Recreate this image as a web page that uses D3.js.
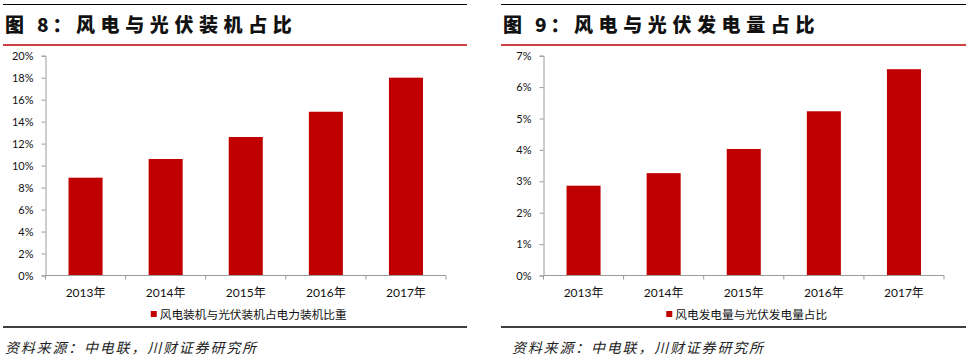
<!DOCTYPE html>
<html>
<head>
<meta charset="utf-8">
<script src="https://cdn.jsdelivr.net/npm/d3@7"></script>
<style>
    body { margin: 0; background: #fff; }
    svg { display: block; }
</style>
</head>
<body>
<div id="chart"></div>
<script>
// Data
const years = ['2013年', '2014年', '2015年', '2016年', '2017年'];
const capacityShare = [8.9, 10.6, 12.6, 14.9, 18.0];   // 图8, %
const generationShare = [2.86, 3.26, 4.03, 5.23, 6.57]; // 图9, %
const capacityTicks = [0, 2, 4, 6, 8, 10, 12, 14, 16, 18, 20];
const generationTicks = [0, 1, 2, 3, 4, 5, 6, 7];
const sourceText = '资料来源：中电联，川财证券研究所';

const RED = '#C00000';
const AXIS = '#9a9a9a';
const NUM_FONT = "Lato, 'Noto Sans CJK SC', sans-serif";
const CJK_FONT = "'Noto Sans CJK SC', sans-serif";

const svg = d3.select('#chart')
    .append('svg')
    .attr('width', 966)
    .attr('height', 364);

drawPanel({
    ox: 0, right: 467, sourceX: 5,
    num: '8', title: '风电与光伏装机占比',
    legend: '风电装机与光伏装机占电力装机比重',
    values: capacityShare, ticks: capacityTicks
});

drawPanel({
    ox: 498, right: 966, sourceX: 512,
    num: '9', title: '风电与光伏发电量占比',
    legend: '风电发电量与光伏发电量占比',
    values: generationShare, ticks: generationTicks
});

function drawPanel(cfg) {
    const g = svg.append('g').attr('transform', `translate(${cfg.ox},0)`);
    const w = cfg.right - cfg.ox;

    // header rules + title
    g.append('line')
        .attr('x1', 3).attr('x2', w).attr('y1', 4.5).attr('y2', 4.5)
        .attr('stroke', '#000').attr('stroke-width', 1);

    const title = g.append('g')
        .style('font-family', CJK_FONT)
        .style('font-weight', 900)
        .style('font-size', '19px')
        .attr('fill', '#111');
    title.append('text').attr('x', 5).attr('y', 32).text('图');
    title.append('text').attr('x', 37).attr('y', 32).attr('letter-spacing', 4).text(cfg.num + '：');
    title.append('text').attr('x', 76).attr('y', 32).attr('letter-spacing', 5.6).text(cfg.title);

    g.append('line')
        .attr('x1', 3).attr('x2', w).attr('y1', 45).attr('y2', 45)
        .attr('stroke', RED).attr('stroke-width', 1.5);

    // plot area
    const left = 45.5, right = 446, top = 55.7, bottom = 275.5;

    const x = d3.scaleBand()
        .domain(years)
        .range([left, right])
        .paddingInner(0.575)
        .paddingOuter(0.2875);

    const y = d3.scaleLinear()
        .domain([0, d3.max(cfg.ticks)])
        .range([bottom, top]);

    g.append('g')
        .selectAll('rect')
        .data(cfg.values)
        .join('rect')
        .attr('x', (d, i) => x(years[i]))
        .attr('y', d => y(d))
        .attr('width', x.bandwidth())
        .attr('height', d => y(0) - y(d))
        .attr('fill', RED);

    // y axis
    const yAxis = g.append('g')
        .attr('transform', `translate(${left},0)`)
        .call(d3.axisLeft(y).tickValues(cfg.ticks).tickFormat(d => d + '%').tickSize(4).tickPadding(8));
    yAxis.select('.domain').attr('stroke', AXIS);
    yAxis.selectAll('.tick line').attr('stroke', AXIS);
    yAxis.selectAll('text')
        .style('font-family', NUM_FONT)
        .style('font-size', '11px')
        .attr('fill', '#111');

    // x axis: line with ticks on the category boundaries
    const bounds = d3.range(years.length + 1).map(i => x.range()[0] + i * x.step());
    g.append('line')
        .attr('x1', left).attr('x2', right).attr('y1', bottom).attr('y2', bottom)
        .attr('stroke', AXIS);
    g.append('g')
        .selectAll('line')
        .data(bounds)
        .join('line')
        .attr('x1', d => d).attr('x2', d => d)
        .attr('y1', bottom).attr('y2', bottom + 4)
        .attr('stroke', AXIS);

    g.append('g')
        .selectAll('text')
        .data(years)
        .join('text')
        .attr('x', d => x(d) + x.bandwidth() / 2)
        .attr('y', 297)
        .attr('text-anchor', 'middle')
        .style('font-family', NUM_FONT)
        .style('font-size', '12px')
        .attr('fill', '#111')
        .text(d => d);

    // legend
    const legend = g.append('g');
    const lt = legend.append('text')
        .attr('y', 319)
        .style('font-family', CJK_FONT)
        .style('font-size', '11.7px')
        .attr('fill', '#111')
        .text(cfg.legend);
    const tw = lt.node().getComputedTextLength();
    const lx = (left + right) / 2 + 3 - (tw + 9) / 2;
    legend.append('rect')
        .attr('x', lx).attr('y', 311)
        .attr('width', 6).attr('height', 6)
        .attr('fill', RED);
    lt.attr('x', lx + 9);

    // footer
    g.append('line')
        .attr('x1', 3).attr('x2', w).attr('y1', 327).attr('y2', 327)
        .attr('stroke', '#000').attr('stroke-width', 1.5);

    g.append('text')
        .attr('x', cfg.sourceX - cfg.ox)
        .attr('y', 353)
        .attr('letter-spacing', 1.8)
        .style('font-family', CJK_FONT)
        .style('font-style', 'italic')
        .style('font-size', '14px')
        .attr('fill', '#222')
        .text(sourceText);
}
</script>
</body>
</html>
